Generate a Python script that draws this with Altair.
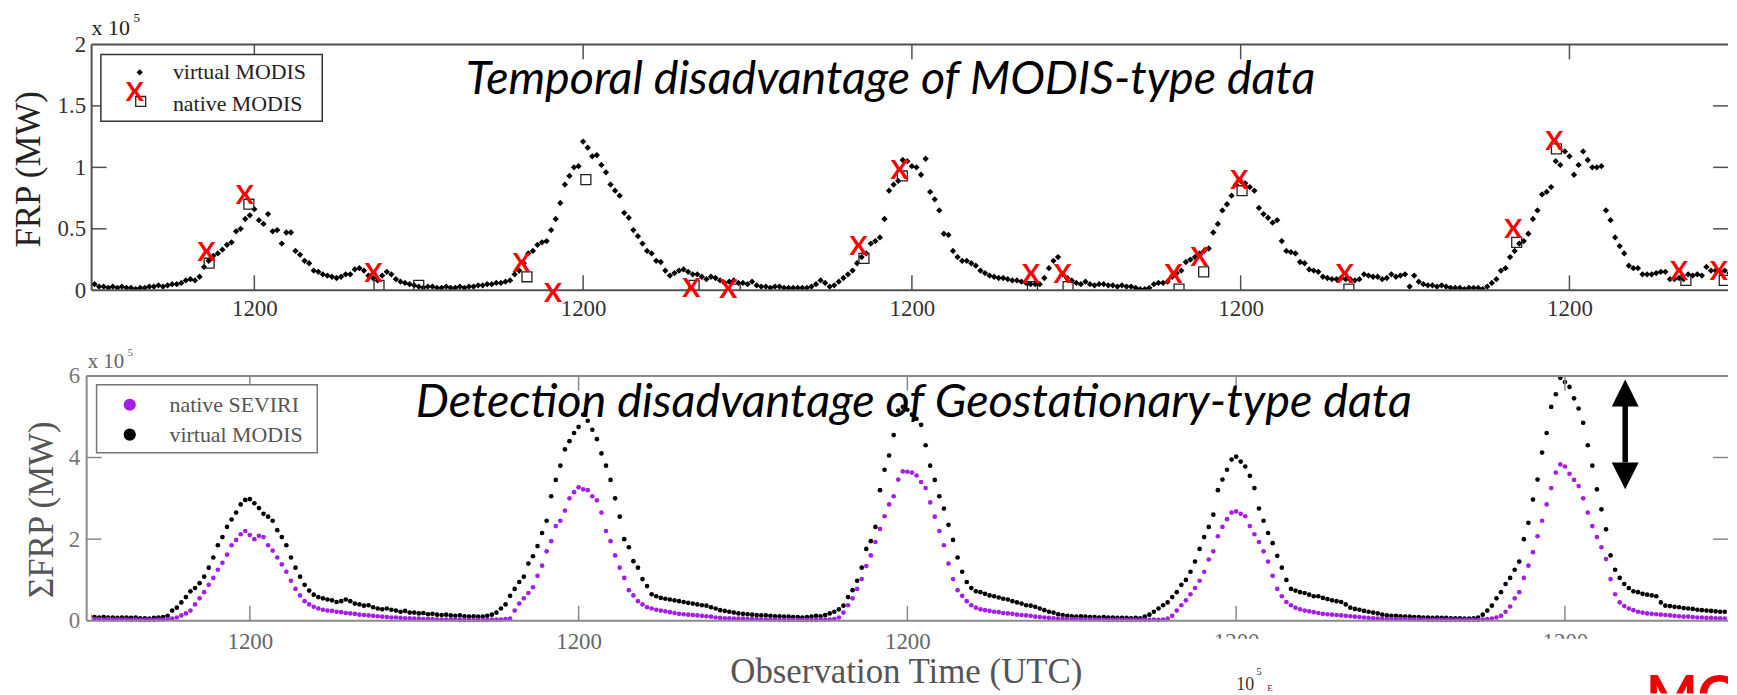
import altair as alt
import pandas as pd

# ---------------- text ----------------
TOP_TITLE = "Temporal disadvantage of MODIS-type data"
BOTTOM_TITLE = "Detection disadvantage of Geostationary-type data"
TOP_YTITLE = "FRP (MW)"
BOT_YTITLE = "\u03a3FRP (MW)"
XTITLE = "Observation Time (UTC)"
TICK_HOURS = [12, 36, 60, 84, 108]
TICK_LABEL = "1200"
TOP_Y_TICKS = [0, 0.5, 1, 1.5, 2]
BOT_Y_TICKS = [0, 2, 4, 6]

# ---------------- top panel: virtual MODIS FRP (x1e5 MW), 20-min steps ----------------
tv_d1 = [0.04,0.05,0.03, 0.03,0.02,0.03, 0.02,0.03,0.02, 0.02,0.01,0.02,
         0.02,0.03,0.03, 0.04,0.03,0.04, 0.05,0.05,0.06, 0.08,0.09,0.08,
         0.11,0.19,0.24, 0.28,0.30,0.33, 0.37,0.39,0.48, 0.50,0.58,0.61,
         0.66,0.57,0.54, 0.62,0.48,0.49, 0.38,0.47,0.47, 0.32,0.29,0.24,
         0.22,0.16,0.15, 0.13,0.12,0.11, 0.10,0.11,0.13, 0.13,0.17,0.18,
         0.16,0.12,0.10, 0.08,0.12,0.15, 0.13,0.09,0.07, 0.06,0.05,0.04]
tv_d2 = [0.03,0.02,0.03, 0.03,0.02,0.02, 0.03,0.02,0.02, 0.03,0.02,0.03,
         0.03,0.04,0.04, 0.05,0.05,0.06, 0.06,0.07,0.08, 0.13,0.16,0.22,
         0.30,0.32,0.37, 0.39,0.40,0.49, 0.58,0.71,0.86, 0.93,1.00,1.01,
         1.21,1.16,1.09, 1.10,1.02,0.96, 0.86,0.81,0.77, 0.63,0.59,0.49,
         0.44,0.38,0.32, 0.30,0.24,0.23, 0.16,0.12,0.14, 0.16,0.17,0.15,
         0.13,0.13,0.11, 0.09,0.11,0.10, 0.08,0.06,0.07, 0.08,0.06,0.06]
tv_d3 = [0.05,0.07,0.04, 0.03,0.03,0.02, 0.03,0.03,0.02, 0.02,0.02,0.02,
         0.02,0.02,0.03, 0.05,0.08,0.06, 0.03,0.04,0.07, 0.10,0.13,0.16,
         0.22,0.27,0.30, 0.38,0.40,0.43, 0.58,0.81,0.86, 0.89,1.06,1.05,
         1.01,1.00,0.94, 1.07,0.80,0.74, 0.65,0.46,0.45, 0.32,0.27,0.24,
         0.24,0.22,0.20, 0.16,0.14,0.12, 0.11,0.10,0.10, 0.09,0.08,0.08,
         0.07,0.06,0.05, 0.05,0.05,0.10, 0.18,0.24,0.27, 0.13,0.10,0.08]
tv_d4 = [0.06,0.05,0.07, 0.05,0.04,0.05, 0.05,0.04,0.04, 0.03,0.04,0.03,
         0.03,0.02,0.01, 0.01,0.02,0.05, 0.06,0.06,0.07, 0.11,0.14,0.16,
         0.23,0.25,0.27, 0.30,0.32,0.34, 0.47,0.54,0.65, 0.70,0.77,0.86,
         0.89,0.87,0.84, 0.81,0.67,0.62, 0.59,0.55,0.57, 0.40,0.32,0.31,
         0.30,0.23,0.22, 0.17,0.16,0.15, 0.11,0.10,0.09, 0.09,0.10,0.09,
         0.09,0.08,0.09, 0.13,0.12,0.11, 0.11,0.09,0.10, 0.13,0.11,0.12]
tv_d5 = [0.13,0.03,0.12, 0.07,0.05,0.04, 0.04,0.03,0.04, 0.03,0.02,0.02,
         0.02,0.01,0.02, 0.02,0.02,0.01, 0.03,0.06,0.09, 0.16,0.18,0.27,
         0.32,0.38,0.40, 0.46,0.58,0.65, 0.78,0.80,0.84, 1.05,1.02,1.13,
         1.09,0.94,1.02, 1.13,1.06,1.00, 1.00,1.01,0.65, 0.57,0.43,0.36,
         0.30,0.20,0.18, 0.18,0.13,0.13, 0.13,0.14,0.15, 0.15,0.09,0.09,
         0.10,0.09,0.13, 0.12,0.13,0.12, 0.19,0.16,0.16, 0.15,0.16,0.14]

# native MODIS overpasses (squares) and red X annotations (hours from start, x1e5 MW)
nm_hour = [8.7, 11.6, 21.1, 24.0, 31.9, 36.2, 44.1, 47.1, 56.5, 59.3,
           68.8, 71.4, 79.5, 81.3, 84.1, 91.9, 104.15, 107.05, 116.5, 119.3]
nm_frp = [0.22, 0.70, 0.04, 0.04, 0.11, 0.90, 0.04, 0.01, 0.26, 0.93,
          0.03, 0.03, 0.01, 0.15, 0.81, 0.01, 0.39, 1.15, 0.08, 0.08]
x_hour = [8.5, 11.3, 20.7, 31.5, 33.8, 43.9, 46.6, 56.1, 59.1, 68.7,
          71.0, 79.1, 81.0, 83.9, 91.6, 103.9, 106.9, 116.0, 118.9]
x_frp = [0.30, 0.77, 0.13, 0.21, -0.03, 0.01, 0.00, 0.35, 0.97, 0.12,
         0.12, 0.12, 0.26, 0.89, 0.12, 0.49, 1.21, 0.15, 0.15]

# ---------------- bottom panel: summed FRP (x1e5 MW), 20-min steps ----------------
bv_d1 = [0.10,0.12,0.09, 0.08,0.09,0.08, 0.08,0.07,0.08, 0.08,0.07,0.08,
         0.06,0.06,0.05, 0.07,0.08,0.09, 0.12,0.25,0.32, 0.45,0.58,0.72,
         0.80,0.92,1.08, 1.30,1.55,1.85, 2.05,2.30,2.48, 2.65,2.85,2.96,
         2.98,2.88,2.76, 2.62,2.55,2.45, 2.22,2.05,1.85, 1.55,1.30,1.08,
         0.88,0.74,0.64, 0.58,0.55,0.52, 0.50,0.46,0.48, 0.52,0.48,0.42,
         0.40,0.37,0.38, 0.33,0.30,0.28, 0.30,0.27,0.25, 0.22,0.24,0.20]
bs_d1 = [0.04,0.05,0.04, 0.04,0.03,0.04, 0.03,0.03,0.03, 0.03,0.02,0.03,
         0.02,0.02,0.02, 0.02,0.03,0.03, 0.04,0.05,0.08, 0.13,0.18,0.25,
         0.40,0.55,0.70, 0.88,1.05,1.25, 1.42,1.62,1.85, 1.98,2.12,2.20,
         2.10,2.00,2.08, 2.05,1.85,1.72, 1.55,1.38,1.20, 0.98,0.78,0.62,
         0.48,0.40,0.34, 0.30,0.27,0.25, 0.24,0.22,0.21, 0.19,0.18,0.17,
         0.15,0.14,0.13, 0.12,0.11,0.10, 0.09,0.08,0.08, 0.07,0.06,0.06]
bv_d2 = [0.20,0.18,0.19, 0.16,0.17,0.15, 0.14,0.15,0.13, 0.12,0.13,0.11,
         0.10,0.11,0.10, 0.10,0.12,0.15, 0.20,0.30,0.40, 0.61,0.78,0.95,
         1.08,1.40,1.58, 1.83,2.15,2.45, 3.05,3.45,3.80, 4.20,4.40,4.60,
         4.75,5.05,4.90, 4.68,4.45,4.10, 3.80,3.45,3.00, 2.55,2.00,1.80,
         1.46,1.30,1.02, 0.85,0.65,0.60, 0.56,0.54,0.52, 0.50,0.48,0.46,
         0.44,0.42,0.40, 0.38,0.37,0.33, 0.30,0.26,0.24, 0.22,0.20,0.18]
bs_d2 = [0.05,0.05,0.04, 0.04,0.04,0.03, 0.03,0.03,0.03, 0.03,0.02,0.02,
         0.02,0.02,0.02, 0.02,0.02,0.03, 0.03,0.03,0.04, 0.05,0.25,0.42,
         0.55,0.68,0.82, 1.10,1.35,1.70, 1.95,2.32,2.45, 2.70,3.00,3.15,
         3.27,3.22,3.20, 3.05,2.95,2.65, 2.20,1.95,1.60, 1.30,1.05,0.75,
         0.62,0.48,0.40, 0.33,0.30,0.27, 0.25,0.23,0.21, 0.19,0.17,0.16,
         0.15,0.14,0.13, 0.12,0.11,0.10, 0.08,0.07,0.06, 0.06,0.05,0.05]
bv_d3 = [0.17,0.16,0.15, 0.14,0.13,0.13, 0.12,0.11,0.11, 0.10,0.10,0.09,
         0.09,0.08,0.09, 0.10,0.12,0.11, 0.14,0.18,0.22, 0.28,0.37,0.58,
         0.75,0.98,1.30, 1.76,1.95,2.30, 3.20,3.70,4.05, 4.55,5.15,5.24,
         5.17,5.05,4.95, 4.80,4.30,3.80, 3.45,3.05,2.75, 2.35,1.98,1.55,
         1.20,0.95,0.80, 0.72,0.70,0.66, 0.62,0.60,0.57, 0.54,0.52,0.48,
         0.45,0.42,0.38, 0.37,0.34,0.30, 0.26,0.22,0.20, 0.16,0.14,0.12]
bs_d3 = [0.05,0.04,0.04, 0.04,0.03,0.03, 0.03,0.03,0.02, 0.02,0.02,0.02,
         0.02,0.02,0.02, 0.02,0.02,0.03, 0.03,0.03,0.04, 0.08,0.20,0.38,
         0.55,0.78,1.02, 1.34,1.60,1.93, 2.25,2.56,2.85, 3.05,3.46,3.66,
         3.65,3.63,3.56, 3.40,3.25,2.90, 2.55,2.20,1.85, 1.40,1.02,0.75,
         0.61,0.48,0.38, 0.32,0.28,0.26, 0.24,0.22,0.21, 0.19,0.18,0.17,
         0.15,0.14,0.13, 0.12,0.10,0.09, 0.08,0.07,0.06, 0.05,0.05,0.04]
bv_d4 = [0.11,0.10,0.11, 0.10,0.09,0.09, 0.08,0.09,0.08, 0.08,0.07,0.07,
         0.07,0.06,0.07, 0.06,0.10,0.15, 0.22,0.30,0.38, 0.45,0.58,0.70,
         0.88,1.00,1.20, 1.45,1.76,2.05, 2.30,2.60,3.20, 3.46,3.70,3.95,
         4.02,3.90,3.78, 3.55,3.25,2.75, 2.45,2.15,1.90, 1.59,1.30,1.00,
         0.78,0.74,0.70, 0.68,0.64,0.60, 0.60,0.56,0.53, 0.50,0.48,0.46,
         0.40,0.32,0.29, 0.27,0.24,0.22, 0.20,0.18,0.15, 0.13,0.12,0.12]
bs_d4 = [0.04,0.04,0.03, 0.03,0.03,0.03, 0.03,0.02,0.02, 0.02,0.02,0.02,
         0.02,0.02,0.02, 0.02,0.02,0.02, 0.03,0.02,0.03, 0.05,0.12,0.25,
         0.38,0.50,0.65, 0.80,0.98,1.20, 1.50,1.70,2.07, 2.30,2.49,2.65,
         2.68,2.62,2.56, 2.32,2.12,1.93, 1.70,1.45,1.10, 0.78,0.60,0.46,
         0.38,0.32,0.28, 0.25,0.23,0.21, 0.19,0.17,0.16, 0.15,0.14,0.13,
         0.12,0.11,0.10, 0.09,0.08,0.07, 0.06,0.05,0.05, 0.04,0.04,0.04]
bv_d5 = [0.11,0.10,0.10, 0.09,0.09,0.08, 0.08,0.07,0.08, 0.07,0.07,0.06,
         0.06,0.06,0.05, 0.05,0.06,0.08, 0.15,0.25,0.37, 0.55,0.70,0.90,
         1.05,1.25,1.45, 2.00,2.40,2.97, 3.46,4.12,4.60, 5.24,5.55,5.95,
         5.85,5.73,5.45, 5.20,4.85,4.30, 3.80,3.22,2.73, 2.24,1.60,1.25,
         1.05,0.90,0.80, 0.72,0.70,0.66, 0.64,0.62,0.60, 0.45,0.37,0.36,
         0.34,0.33,0.31, 0.30,0.29,0.27, 0.26,0.25,0.24, 0.23,0.22,0.22]
bs_d5 = [0.04,0.04,0.03, 0.03,0.03,0.03, 0.02,0.02,0.02, 0.02,0.02,0.02,
         0.02,0.02,0.02, 0.02,0.02,0.02, 0.03,0.04,0.05, 0.08,0.12,0.22,
         0.35,0.55,0.70, 1.05,1.35,1.68, 2.07,2.45,2.85, 3.25,3.63,3.83,
         3.78,3.60,3.45, 3.30,3.00,2.65, 2.32,2.05,1.80, 1.51,1.02,0.65,
         0.45,0.36,0.30, 0.26,0.22,0.20, 0.18,0.17,0.16, 0.15,0.14,0.13,
         0.12,0.11,0.10, 0.10,0.09,0.08, 0.08,0.07,0.07, 0.06,0.06,0.05]

# double arrow annotation (hours, x1e5 MW)
arrow_hour = [112.4]
arrow_shaft = [5.27, 3.88]
arrow_heads = [5.58, 3.55]

# ---------------- build tables ----------------
top_vm = tv_d1 + tv_d2 + tv_d3 + tv_d4 + tv_d5
bot_vm = bv_d1 + bv_d2 + bv_d3 + bv_d4 + bv_d5
bot_sev = bs_d1 + bs_d2 + bs_d3 + bs_d4 + bs_d5
df_top = pd.DataFrame({"hour": [i / 3 for i in range(len(top_vm))], "frp": top_vm})
df_bv = pd.DataFrame({"hour": [i / 3 for i in range(len(bot_vm))], "frp": bot_vm})
df_bs = pd.DataFrame({"hour": [i / 3 for i in range(len(bot_sev))], "frp": bot_sev})
df_nm = pd.DataFrame({"hour": nm_hour, "frp": nm_frp})
df_x = pd.DataFrame({"hour": x_hour, "frp": x_frp})
df_ticks = pd.DataFrame({"hour": TICK_HOURS})
df_shaft = pd.DataFrame({"hour": arrow_hour, "frp": [arrow_shaft[0]], "frp2": [arrow_shaft[1]]})
df_head_up = pd.DataFrame({"hour": arrow_hour, "frp": [arrow_heads[0]]})
df_head_dn = pd.DataFrame({"hour": arrow_hour, "frp": [arrow_heads[1]]})
one = pd.DataFrame({"k": [0]})

# ---------------- layout constants ----------------
SERIF = "Liberation Serif"
SANS = "Lato"
W, HT, HB = 1644, 247, 319
PXH = 13.7625                     # pixels per hour
BOT_ZERO = 246                    # pixel row of y=0 in bottom panel
xs_top = alt.Scale(domain=[0.12, 0.12 + W / PXH], nice=False, zero=False)
ys_top = alt.Scale(domain=[0, 2], nice=False, zero=False)
xs_bot = alt.Scale(domain=[0.45, 0.45 + W / PXH], nice=False, zero=False)
ys_bot = alt.Scale(domain=[-(HB - BOT_ZERO) / 41.0, 6], nice=False, zero=False)


def seg(x1, x2, y1, y2, color, w):
    return alt.Chart(one).mark_rule(color=color, strokeWidth=w).encode(
        x=alt.value(x1), x2=alt.value(x2), y=alt.value(y1), y2=alt.value(y2))


def txt(s, x, y, size, color="#222", font=SERIF, align="left", baseline="alphabetic",
        style="normal", weight="normal", clip=False):
    return alt.Chart(one).mark_text(
        text=s, font=font, fontSize=size, color=color, align=align, baseline=baseline,
        fontStyle=style, fontWeight=weight, clip=clip).encode(x=alt.value(x), y=alt.value(y))


# ================= TOP PANEL =================
FT = "#505050"
anchor = alt.Chart(one).mark_rule(strokeOpacity=0, opacity=0).encode(
    x=alt.value(-84), x2=alt.value(-83), y=alt.value(-34.7), y2=alt.value(-34.7))

top_x_axis = alt.Axis(values=TICK_HOURS, labelExpr="'%s'" % TICK_LABEL, domain=False, ticks=False,
                      grid=False, labelFont=SERIF, labelFontSize=23, labelColor="#333",
                      labelPadding=7, labelFlush=False, title=None)
top_y_axis = alt.Axis(values=TOP_Y_TICKS, labelExpr="'' + datum.value", domain=False, ticks=False,
                      grid=False, labelFont=SERIF, labelFontSize=23, labelColor="#333",
                      labelPadding=6, title=TOP_YTITLE, titleFont=SERIF, titleFontSize=35,
                      titleFontWeight="normal", titleColor="#222", titleAngle=270,
                      titleX=-63, titleY=125, titleAlign="center", titleBaseline="middle")
TX = dict(scale=xs_top, axis=top_x_axis)
TY = dict(scale=ys_top, axis=top_y_axis)

top_pts = alt.Chart(df_top).mark_point(shape="diamond", filled=True, color="black", size=40,
                                       opacity=1, clip=True).encode(
    x=alt.X("hour:Q", **TX), y=alt.Y("frp:Q", **TY))
top_sq = alt.Chart(df_nm).mark_point(shape="square", filled=False, color="#222", size=100,
                                     strokeWidth=1.3, opacity=1, clip=True).encode(
    x=alt.X("hour:Q", **TX), y=alt.Y("frp:Q", **TY))
top_x = alt.Chart(df_x).mark_text(text="X", font=SANS, fontWeight="bold", fontSize=27,
                                  color="#ff0000", align="center", baseline="middle").encode(
    x=alt.X("hour:Q", **TX), y=alt.Y("frp:Q", **TY))

tick_len = 15
top_ticks_b = alt.Chart(df_ticks).mark_rule(color=FT, strokeWidth=1.5).encode(
    x=alt.X("hour:Q", **TX), y=alt.value(HT), y2=alt.value(HT - tick_len))
top_ticks_t = alt.Chart(df_ticks).mark_rule(color=FT, strokeWidth=1.5).encode(
    x=alt.X("hour:Q", **TX), y=alt.value(0), y2=alt.value(tick_len))
df_ty = pd.DataFrame({"frp": TOP_Y_TICKS[1:-1]})
top_ticks_l = alt.Chart(df_ty).mark_rule(color=FT, strokeWidth=1.5).encode(
    y=alt.Y("frp:Q", **TY), x=alt.value(0), x2=alt.value(tick_len))
top_ticks_r = alt.Chart(df_ty).mark_rule(color=FT, strokeWidth=1.5).encode(
    y=alt.Y("frp:Q", **TY), x=alt.value(W - tick_len), x2=alt.value(W))

top_frame = [seg(0, W, 0, 0, FT, 2), seg(0, W, HT, HT, FT, 2), seg(0, 0, 0, HT, FT, 2)]

top_leg = [
    alt.Chart(one).mark_rect(fill="white", stroke="#333", strokeWidth=1.5).encode(
        x=alt.value(9.3), x2=alt.value(231.7), y=alt.value(10), y2=alt.value(77.3)),
    alt.Chart(one).mark_point(shape="diamond", filled=True, color="black", size=40, opacity=1).encode(
        x=alt.value(48.3), y=alt.value(28)),
    alt.Chart(one).mark_point(shape="square", filled=False, color="#222", size=100,
                              strokeWidth=1.3, opacity=1).encode(x=alt.value(49.3), y=alt.value(57.3)),
    txt("X", 43.3, 49, 27, color="#ff0000", font=SANS, align="center", baseline="middle", weight="bold"),
    txt("virtual MODIS", 81.7, 28, 22, baseline="middle"),
    txt("native MODIS", 81.7, 60, 22, baseline="middle"),
]
top_exp = [txt("x 10", 0, -9.7, 22), txt("5", 42, -23, 13)]
top_title = txt(TOP_TITLE, 802.6, 50.3, 46.8, color="black", font=SANS, align="center", style="italic")

top = alt.layer(anchor, top_pts, top_sq, *top_frame, top_ticks_b, top_ticks_t, top_ticks_l,
                top_ticks_r, top_x, *top_leg, *top_exp, top_title).properties(width=W, height=HT)

# ================= BOTTOM PANEL =================
FB = "#8a8a8a"
PURPLE = "#a41ee8"
bot_x_axis = alt.Axis(values=TICK_HOURS, labelExpr="'%s'" % TICK_LABEL, domain=False, ticks=False,
                      grid=False, labelFont=SERIF, labelFontSize=23, labelColor="#666",
                      labelPadding=10, labelFlush=False, offset=-(HB - BOT_ZERO), zindex=0,
                      title=XTITLE, titleFont=SERIF, titleFontSize=35, titleFontWeight="normal",
                      titleColor="#555", titleX=818, titleY=51, titleAlign="center",
                      titleBaseline="middle", titleAngle=0)
bot_y_axis = alt.Axis(values=BOT_Y_TICKS, labelExpr="'' + datum.value", domain=False, ticks=False,
                      grid=False, labelFont=SERIF, labelFontSize=23, labelColor="#777",
                      labelPadding=12, title=BOT_YTITLE, titleFont=SERIF, titleFontSize=35,
                      titleFontWeight="normal", titleColor="#555", titleAngle=270,
                      titleX=-50, titleY=134, titleAlign="center", titleBaseline="middle")
BX = dict(scale=xs_bot, axis=bot_x_axis)
BY = dict(scale=ys_bot, axis=bot_y_axis)

bot_black = alt.Chart(df_bv).mark_point(shape="circle", filled=True, color="black", size=22,
                                        opacity=1, clip=True).encode(
    x=alt.X("hour:Q", **BX), y=alt.Y("frp:Q", **BY))
bot_purple = alt.Chart(df_bs).mark_point(shape="circle", filled=True, color=PURPLE, size=22,
                                         opacity=1, clip=True).encode(
    x=alt.X("hour:Q", **BX), y=alt.Y("frp:Q", **BY))

bot_ticks_b = alt.Chart(df_ticks).mark_rule(color=FB, strokeWidth=1.5).encode(
    x=alt.X("hour:Q", **BX), y=alt.value(BOT_ZERO), y2=alt.value(BOT_ZERO - tick_len))
bot_ticks_t = alt.Chart(df_ticks).mark_rule(color=FB, strokeWidth=1.5).encode(
    x=alt.X("hour:Q", **BX), y=alt.value(0), y2=alt.value(tick_len))
df_by = pd.DataFrame({"frp": BOT_Y_TICKS[1:-1]})
bot_ticks_l = alt.Chart(df_by).mark_rule(color=FB, strokeWidth=1.5).encode(
    y=alt.Y("frp:Q", **BY), x=alt.value(-5), x2=alt.value(tick_len - 5))
bot_ticks_r = alt.Chart(df_by).mark_rule(color=FB, strokeWidth=1.5).encode(
    y=alt.Y("frp:Q", **BY), x=alt.value(W - tick_len), x2=alt.value(W))
bot_frame = [seg(-5, W, 0, 0, FB, 2), seg(-5, W, BOT_ZERO, BOT_ZERO, FB, 2),
             seg(-5, -5, 0, BOT_ZERO, FB, 2)]

shaft = alt.Chart(df_shaft).mark_rule(color="black", strokeWidth=5.5).encode(
    x=alt.X("hour:Q", **BX), y=alt.Y("frp:Q", **BY), y2="frp2:Q")
head_up = alt.Chart(df_head_up).mark_point(shape="M0,-1L1,1L-1,1Z", filled=True, color="black",
                                           size=729, opacity=1).encode(
    x=alt.X("hour:Q", **BX), y=alt.Y("frp:Q", **BY))
head_dn = alt.Chart(df_head_dn).mark_point(shape="M0,1L1,-1L-1,-1Z", filled=True, color="black",
                                           size=729, opacity=1).encode(
    x=alt.X("hour:Q", **BX), y=alt.Y("frp:Q", **BY))

bot_leg = [
    alt.Chart(one).mark_rect(fill="white", stroke="#777", strokeWidth=1.5).encode(
        x=alt.value(5), x2=alt.value(226.7), y=alt.value(9), y2=alt.value(77.3)),
    alt.Chart(one).mark_point(shape="circle", filled=True, color=PURPLE, size=150, opacity=1).encode(
        x=alt.value(38.3), y=alt.value(29)),
    alt.Chart(one).mark_point(shape="circle", filled=True, color="black", size=150, opacity=1).encode(
        x=alt.value(38.3), y=alt.value(59)),
    txt("native SEVIRI", 78.3, 29, 22, color="#555", baseline="middle"),
    txt("virtual MODIS", 78.3, 59, 22, color="#555", baseline="middle"),
]
bot_exp = [txt("x 10", -4, -8, 21, color="#666"), txt("5", 36, -20, 11, color="#666")]
bot_title = txt(BOTTOM_TITLE, 826, 41, 47, color="black", font=SANS, align="center", style="italic")

# overlapping pieces of a neighbouring figure at the lower right
cover = alt.Chart(one).mark_rect(fill="white", clip=True).encode(
    x=alt.value(1075), x2=alt.value(W), y=alt.value(264), y2=alt.value(HB))
stray = [
    txt("10", 1150, 316, 18, color="#333", clip=True),
    txt("5", 1170, 301, 11, color="#333", clip=True),
    txt("E", 1181, 317, 9, color="#333", clip=True),
    txt("MO", 1561.5, 340.6, 55, color="#f00000", font=SANS, weight="bold", clip=True),
]

bottom = alt.layer(bot_black, bot_purple, *bot_frame, bot_ticks_b, bot_ticks_t, bot_ticks_l,
                   bot_ticks_r, shaft, head_up, head_dn, *bot_leg, *bot_exp, bot_title,
                   cover, *stray).properties(width=W, height=HB)

chart = alt.vconcat(top, bottom, spacing=86, bounds="flush").resolve_scale(
    x="independent", y="independent").properties(
    padding={"left": 0, "top": 0, "right": 0, "bottom": 0}).configure_view(stroke=None)

chart.save("out.html", embed_options={"renderer": "svg", "actions": False})
